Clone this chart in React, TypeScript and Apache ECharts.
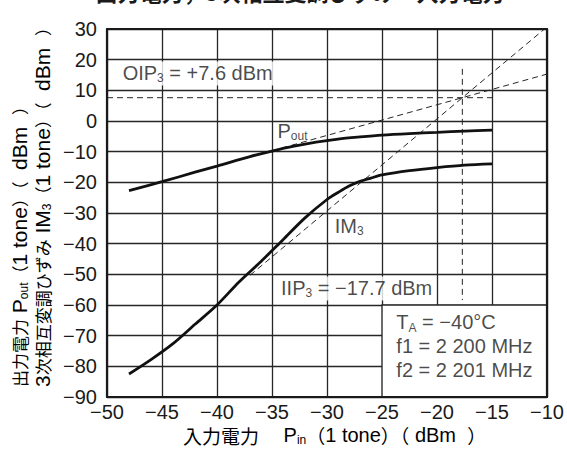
import React, { useEffect, useRef } from 'react';
import * as echarts from 'echarts';

// ---- data ----
const xRange = [-50, -10];
const yRange = [-90, 30];
const poutData: [number, number][] = [
  [-48, -22.7], [-45, -19.8], [-42, -16.7], [-40, -14.7], [-37, -11.6], [-35, -9.8],
  [-33, -8.2], [-31, -6.9], [-29, -5.9], [-27, -5.2], [-25, -4.6], [-22.5, -4.1],
  [-20, -3.7], [-17.5, -3.3], [-15, -3.0],
];
const im3Data: [number, number][] = [
  [-48, -82.5], [-46, -77.8], [-44, -72.6], [-42, -66.3], [-40, -60], [-38, -52.5],
  [-36, -45.8], [-34, -38.7], [-32, -31.6], [-30, -25.6], [-29, -23.3], [-28, -21.2],
  [-27, -19.7], [-26, -18.6], [-25, -17.6], [-22.5, -16.2], [-20, -15.2], [-17.5, -14.4],
  [-15, -14.0],
];
const oipLine: [number, number][] = [[-50, 7.6], [-15, 7.6]];
const iipLine: [number, number][] = [[-17.7, 17], [-17.7, -58.4]];
const poutExtrap: [number, number][] = [[-35, -9.7], [-10, 15.3]];
const im3Extrap: [number, number][] = [[-37, -50.3], [-10.23, 30]];
const noteBox: [number, number][] = [[-25, -60], [-10, -90]];
const labelPos: [number, number][] = [
  [-48.85, 15.5], [-34.5, -3.3], [-29.3, -34.2], [-34.45, -54.6], [-23.7, -73.5],
];
const labelText = [
  '{a|OIP}{s|3}{a| = +7.6 dBm}',
  '{a|P}{s|out}',
  '{a|IM}{s|3}',
  '{a|IIP}{s|3}{a| = \u221217.7 dBm}',
  '{b|T}{t|A}{b| = \u221240°C}\n{b|f1 = 2 200 MHz}\n{b|f2 = 2 201 MHz}',
];
const labelBg = [true, false, false, true, false];
const titleText = '出力電力，3次相互変調ひずみ－入力電力';
const yTitle1 = '{c|出力電力}{l| P}{s|out}{c|（}{l|1 tone}{c|）（}{l|  dBm  }{c|）}';
const yTitle2 = '{l|3}{c|次相互変調ひずみ}{l| IM}{s|3}{c|（}{l|1 tone}{c|）（}{l|  dBm  }{c|）}';
const xTitle = '{x|入力電力　}{m| P}{s|in}{x|（}{m|1 tone}{x|）（}{m| dBm  }{x|）}';

const LAT = '"Liberation Sans", Arial, Helvetica, "Noto Sans CJK JP", sans-serif';
const CJK = '"Noto Sans CJK JP", sans-serif';
const TXT = '#1a1a1a';
const GRID = '#262626';

const fmt = (v: number) => (v < 0 ? '\u2212' + Math.abs(v) : String(v));

const rich = {
  a: { fontSize: 20, fontFamily: LAT, color: TXT, lineHeight: 22 },
  s: { fontSize: 12, fontFamily: LAT, color: TXT, lineHeight: 16, verticalAlign: 'bottom' },
  b: { fontSize: 20, fontFamily: LAT, color: TXT, lineHeight: 24 },
  t: { fontSize: 12, fontFamily: LAT, color: TXT, lineHeight: 18, verticalAlign: 'bottom' },
};
const titleRich = {
  c: { fontSize: 17, fontFamily: CJK, color: TXT, lineHeight: 22 },
  x: { fontSize: 19, fontFamily: CJK, color: TXT, lineHeight: 22 },
  l: { fontSize: 21, fontFamily: LAT, color: TXT, lineHeight: 22 },
  m: { fontSize: 20, fontFamily: LAT, color: TXT, lineHeight: 22 },
  s: { fontSize: 12, fontFamily: LAT, color: TXT, lineHeight: 16, verticalAlign: 'bottom' },
};

export default function App() {
  const ref = useRef<HTMLDivElement>(null);
  useEffect(() => {
    document.body.style.margin = '0';
    const chart = echarts.init(ref.current!, null, { renderer: 'svg' });
    const frameX = (pos: string) => ({
      type: 'value', min: xRange[0], max: xRange[1], position: pos, z: 10,
      axisLine: { show: true, onZero: false, lineStyle: { color: TXT, width: 2.2 } },
      axisTick: { show: false }, axisLabel: { show: false }, splitLine: { show: false },
    });
    const frameY = (pos: string) => ({
      type: 'value', min: yRange[0], max: yRange[1], position: pos, z: 10,
      axisLine: { show: true, onZero: false, lineStyle: { color: TXT, width: 2.2 } },
      axisTick: { show: false }, axisLabel: { show: false }, splitLine: { show: false },
    });
    const dashed = (data: [number, number][]) => ({
      type: 'line', data, symbol: 'none', silent: true, z: 3,
      lineStyle: { color: GRID, width: 1, type: [6, 4] },
    });
    chart.setOption({
      animation: false,
      grid: { left: 107, right: 18, top: 29, bottom: 67 },
      xAxis: [
        {
          type: 'value', min: xRange[0], max: xRange[1], interval: 5, position: 'bottom', z: 0,
          axisLine: { show: false, onZero: false }, axisTick: { show: false },
          splitLine: { show: true, lineStyle: { color: GRID, width: 1.3 } },
          axisLabel: { fontSize: 20, color: TXT, fontFamily: LAT, margin: 5, formatter: fmt },
        },
        frameX('bottom'),
        frameX('top'),
      ],
      yAxis: [
        {
          type: 'value', min: yRange[0], max: yRange[1], interval: 10, position: 'left', z: 0,
          axisLine: { show: false, onZero: false }, axisTick: { show: false },
          splitLine: { show: true, lineStyle: { color: GRID, width: 1.3 } },
          axisLabel: { fontSize: 20, color: TXT, fontFamily: LAT, margin: 10, formatter: fmt },
        },
        frameY('left'),
        frameY('right'),
      ],
      series: [
        {
          type: 'line', data: poutData, symbol: 'none', smooth: 0.3, z: 4,
          lineStyle: { color: '#111', width: 2.8 },
          markArea: {
            silent: true,
            itemStyle: { color: '#ffffff', opacity: 1, borderColor: GRID, borderWidth: 1.3 },
            data: [[
              { xAxis: noteBox[0][0], yAxis: noteBox[0][1] },
              { xAxis: noteBox[1][0], yAxis: noteBox[1][1] },
            ]],
          },
        },
        {
          type: 'line', data: im3Data, symbol: 'none', smooth: 0.3, z: 4,
          lineStyle: { color: '#111', width: 2.8 },
        },
        dashed(oipLine),
        dashed(iipLine),
        dashed(poutExtrap),
        dashed(im3Extrap),
        {
          type: 'scatter', symbolSize: 0, z: 6, silent: true,
          data: labelPos.map((p, i) => ({
            value: p,
            label: {
              show: true, position: 'right', distance: 0,
              formatter: labelText[i], rich,
              backgroundColor: labelBg[i] ? '#ffffff' : 'transparent',
              padding: labelBg[i] ? [1, 3] : 0,
            },
          })),
        },
      ],
      graphic: [
        {
          type: 'text', x: 300, y: -9,
          style: {
            text: titleText, fontSize: 22, fontWeight: 'bold', fontFamily: CJK, fill: TXT,
            align: 'center', verticalAlign: 'middle',
          },
        },
        {
          type: 'text', x: 19, y: 387, rotation: Math.PI / 2,
          style: { text: yTitle1, rich: titleRich, align: 'left', verticalAlign: 'middle' },
        },
        {
          type: 'text', x: 42, y: 387, rotation: Math.PI / 2,
          style: { text: yTitle2, rich: titleRich, align: 'left', verticalAlign: 'middle' },
        },
        {
          type: 'text', x: 183, y: 435,
          style: { text: xTitle, rich: titleRich, align: 'left', verticalAlign: 'middle' },
        },
      ],
    });
    return () => chart.dispose();
  }, []);
  return <div ref={ref} style={{ width: 567, height: 464 }} />;
}
